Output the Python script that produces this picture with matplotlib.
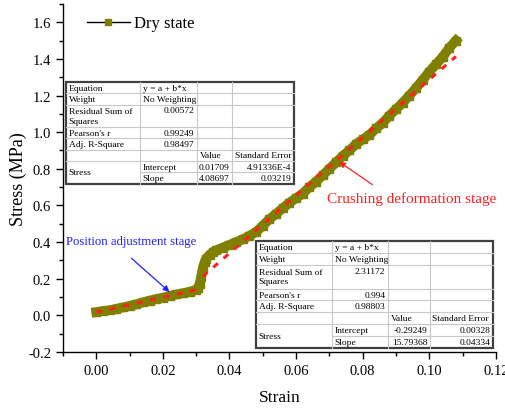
import matplotlib
matplotlib.use("Agg")
import matplotlib.pyplot as plt
from matplotlib.lines import Line2D
import numpy as np

plt.rcParams['font.family'] = ['Liberation Serif', 'DejaVu Serif']

strain = [0.000, 0.002, 0.004, 0.006, 0.008, 0.010, 0.012, 0.014, 0.016, 0.018,
          0.020, 0.022, 0.024, 0.026, 0.028, 0.030, 0.0305, 0.031, 0.0315, 0.032,
          0.0325, 0.033, 0.034, 0.035, 0.036, 0.038, 0.040, 0.042, 0.044, 0.046,
          0.048, 0.050, 0.052, 0.054, 0.056, 0.058, 0.060, 0.062, 0.064, 0.066,
          0.068, 0.070, 0.072, 0.074, 0.076, 0.078, 0.080, 0.082, 0.084, 0.086,
          0.088, 0.090, 0.092, 0.094, 0.096, 0.098, 0.100, 0.102, 0.104, 0.106,
          0.108]
stress = [0.018, 0.024, 0.028, 0.036, 0.043, 0.052, 0.060, 0.071, 0.081, 0.089,
          0.097, 0.106, 0.114, 0.121, 0.129, 0.139, 0.150, 0.170, 0.210, 0.260,
          0.290, 0.310, 0.330, 0.345, 0.355, 0.370, 0.385, 0.400, 0.415, 0.435,
          0.455, 0.490, 0.525, 0.555, 0.585, 0.615, 0.640, 0.665, 0.700, 0.730,
          0.765, 0.800, 0.835, 0.870, 0.900, 0.935, 0.960, 0.985, 1.020, 1.050,
          1.090, 1.125, 1.160, 1.200, 1.240, 1.285, 1.330, 1.370, 1.410, 1.460,
          1.500]

# linear fits (from the tables)
fit1_a, fit1_b = 0.01709, 4.08697
fit1_range = [0.0, 0.031]
fit2_a, fit2_b = -0.29249, 15.79368
fit2_range = [0.032, 0.108]

table1 = [
    ["Equation", "y = a + b*x", "", ""],
    ["Weight", "No Weighting", "", ""],
    ["Residual Sum of\nSquares", "0.00572", "", ""],
    ["Pearson's r", "0.99249", "", ""],
    ["Adj. R-Square", "0.98497", "", ""],
    ["", "", "Value", "Standard Error"],
    ["Stress", "Intercept", "0.01709", "4.91336E-4"],
    ["", "Slope", "4.08697", "0.03219"],
]
table2 = [
    ["Equation", "y = a + b*x", "", ""],
    ["Weight", "No Weighting", "", ""],
    ["Residual Sum of\nSquares", "2.31172", "", ""],
    ["Pearson's r", "0.994", "", ""],
    ["Adj. R-Square", "0.98803", "", ""],
    ["", "", "Value", "Standard Error"],
    ["Stress", "Intercept", "-0.29249", "0.00328"],
    ["", "Slope", "15.79368", "0.04334"],
]


def draw_table(ax, rows, left, top, col_w, unit_h, fs=6.8):
    # col_w and unit_h in axes fraction
    tr = ax.transAxes
    heights = [1, 1, 2, 1, 1, 1, 1, 1]
    edges = [left]
    for w in col_w:
        edges.append(edges[-1] + w)
    ys = [top]
    for h in heights:
        ys.append(ys[-1] - h * unit_h)
    right, bottom = edges[-1], ys[-1]
    grid = dict(color="#c8c8c8", lw=0.8, transform=tr, clip_on=False, zorder=6)
    ax.add_patch(plt.Rectangle((left, bottom), right - left, top - bottom,
                               facecolor="white", edgecolor="#404040", lw=1.6,
                               transform=tr, clip_on=False, zorder=5))
    for i in range(1, len(ys) - 1):
        x0 = edges[1] if i == 7 else left
        ax.add_line(Line2D([x0, right], [ys[i], ys[i]], **grid))
    for e in edges[1:-1]:
        ax.add_line(Line2D([e, e], [bottom, top], **grid))
    pad = 0.006
    for i, row in enumerate(rows):
        yt, yb = ys[i], ys[i + 1]
        for j, txt in enumerate(row):
            if not txt:
                continue
            numeric = txt[0].isdigit() or txt[0] == "-"
            if j == 0 and txt == "Stress":
                y = yt - unit_h
            elif heights[i] == 2 and "\n" not in txt:
                y = yt - 0.5 * unit_h
            else:
                y = (yt + yb) / 2
            if numeric:
                x, ha = edges[j + 1] - pad, "right"
            else:
                x, ha = edges[j] + pad, "left"
            ax.text(x, y, txt, ha=ha, va="center", fontsize=fs, transform=tr,
                    zorder=7, linespacing=1.25)


fig, ax = plt.subplots(figsize=(5.06, 4.10), dpi=100)
fig.subplots_adjust(left=0.1245, right=0.980, bottom=0.139, top=0.988)

ax.plot(strain, stress, color="#808000", lw=7, marker="s", ms=5.5,
        solid_joinstyle="miter", zorder=3)

for (a, b), rng in [((fit1_a, fit1_b), fit1_range), ((fit2_a, fit2_b), fit2_range)]:
    xs = np.array(rng)
    ax.plot(xs, a + b * xs, color="#ff2020", lw=2.2, ls=(0, (2, 2.5)), zorder=4)

ax.set_xlim(-0.01, 0.12)
ax.set_ylim(-0.2, 1.7)
ax.set_xticks(np.arange(0, 0.121, 0.02))
ax.set_xticks(np.arange(-0.01, 0.121, 0.01), minor=True)
ax.set_yticks(np.arange(-0.2, 1.61, 0.2))
ax.set_yticks(np.arange(-0.2, 1.71, 0.1), minor=True)
ax.xaxis.set_major_formatter(plt.FormatStrFormatter("%.2f"))
ax.yaxis.set_major_formatter(plt.FormatStrFormatter("%.1f"))
ax.tick_params(which="major", direction="out", length=5, width=1, labelsize=10.5)
ax.tick_params(which="minor", direction="out", length=3, width=1)
for s in ["top", "right"]:
    ax.spines[s].set_visible(False)
for s in ["left", "bottom"]:
    ax.spines[s].set_linewidth(1)
ax.set_xlabel("Strain", fontsize=12.5, labelpad=9)
ax.set_ylabel("Stress (MPa)", fontsize=13, labelpad=1)

handle = Line2D([], [], color="black", lw=1, marker="s", ms=5,
                markerfacecolor="#808000", markeredgecolor="#808000")
ax.legend([handle], ["Dry state"], loc="upper left", bbox_to_anchor=(0.02, 1.01),
          frameon=False, fontsize=12, handlelength=2.6, handletextpad=0.25)

ax.annotate("Position adjustment stage", xy=(0.0226, 0.12), xytext=(-0.009, 0.404),
            color="#2020ff", fontsize=9.2, va="center", ha="left")
ax.annotate("", xy=(0.0226, 0.118), xytext=(0.0099, 0.322),
            arrowprops=dict(arrowstyle="-|>", color="#2020ff", lw=0.9,
                            mutation_scale=9))
ax.annotate("Crushing deformation stage", xy=(0.0722, 0.847), xytext=(0.0692, 0.64),
            color="#ff2020", fontsize=11, va="center", ha="left")
ax.annotate("", xy=(0.0722, 0.847), xytext=(0.0836, 0.705),
            arrowprops=dict(arrowstyle="-|>", color="#ff2020", lw=0.9,
                            mutation_scale=9))

aw, ah = 433.0, 348.0
draw_table(ax, table1, 3 / aw, (353 - 83) / ah, [74 / aw, 57 / aw, 35 / aw, 62 / aw],
           11.3 / ah)
draw_table(ax, table2, 193 / aw, (353 - 242) / ah, [76 / aw, 56 / aw, 42 / aw, 63 / aw],
           11.9 / ah)

fig.savefig("out.png", dpi=100)
